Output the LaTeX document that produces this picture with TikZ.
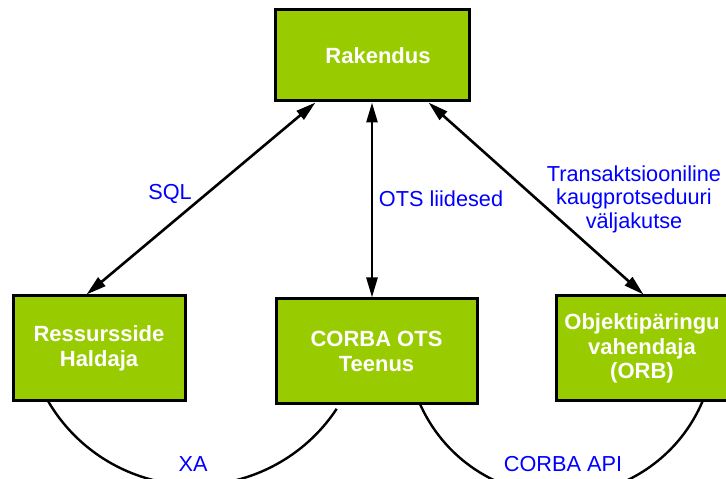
\documentclass[tikz,border=0pt]{standalone}
\usepackage{fontspec}
\setmainfont{Liberation Sans}
\usetikzlibrary{arrows.meta,calc}
\definecolor{boxgreen}{RGB}{153,204,0}
\definecolor{labelblue}{RGB}{0,0,255}
\begin{document}
\begin{tikzpicture}[x=1pt,y=1pt,
  greenbox/.style={draw=black, line width=3, fill=boxgreen, text=white,
    font=\fontsize{22}{24.5}\selectfont\bfseries, align=center, inner sep=0},
  link/.style={line width=2.6, {Triangle[length=20,width=11]}-{Triangle[length=20,width=11]}},
  curve/.style={line width=2.4},
  lbl/.style={text=labelblue, font=\fontsize{21.7}{23.5}\selectfont, align=center, inner sep=0}]
\useasboundingbox (0,0) rectangle (726,479);

% arcs under the lower boxes
\coordinate (xa0) at (48,78);
\coordinate (api0) at (420,75);
\draw[curve] (xa0) arc[start angle=210.3, end angle=326.6, radius=170];
\draw[curve] (api0) arc[start angle=204, end angle=338, radius=154];

% boxes
\node[greenbox, minimum width=194, minimum height=91] (rak) at (372,423.5) {\hspace*{12pt}Rakendus};
\node[greenbox, minimum width=172, minimum height=105] (rh) at (99,130.5) {Ressursside\\Haldaja};
\node[greenbox, minimum width=201, minimum height=105] (ots) at (376.5,127.5) {CORBA OTS\\Teenus};
\node[greenbox, minimum width=172, minimum height=105] (orb) at (642,130.5) {Objektipäringu\\vahendaja\\(ORB)};

% connectors
\draw[link] ($(rak.south west)+(42,0)$) -- ($(rh.north west)+(75,0)$);
\draw[link] (rak.south) -- (rak.south |- ots.north);
\draw[link] ($(rak.south west)+(155,0)$) -- ($(orb.north west)+(89,0)$);

% labels
\node[lbl, anchor=base] (sql) at (170,279) {SQL};
\node[lbl, anchor=base] (otsl) at (441,272) {OTS liidesed};
\node[lbl] (trans) at (634,280) {Transaktsiooniline\\kaugprotseduuri\\väljakutse};
\node[lbl, anchor=base] (xa) at (193,7) {XA};
\node[lbl, anchor=base] (api) at (563,7) {CORBA API};
\end{tikzpicture}
\end{document}
